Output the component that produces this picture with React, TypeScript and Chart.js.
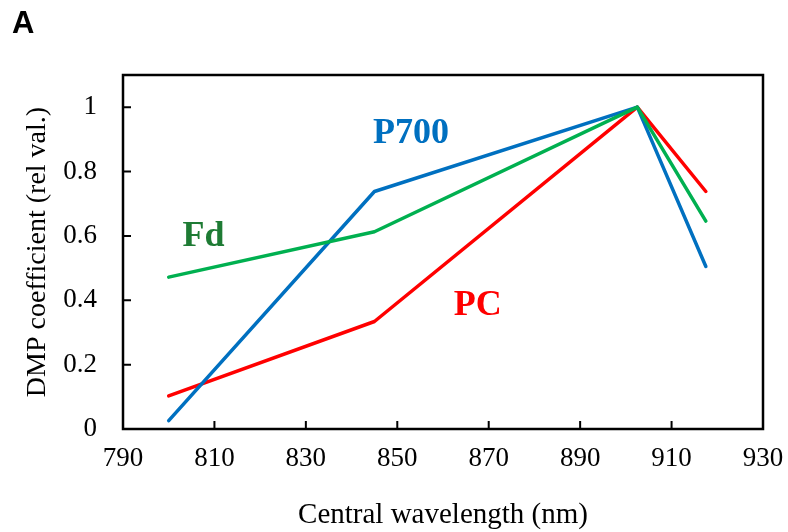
import React, { useEffect, useRef } from "react";
import { Chart, registerables } from "chart.js";

Chart.register(...registerables);

const wavelengths = [800, 845, 902.5, 917.5];
const p700 = [0.026, 0.738, 1.0, 0.505];
const fd = [0.472, 0.613, 1.0, 0.646];
const pc = [0.103, 0.334, 1.0, 0.738];
const xTicks = [790, 810, 830, 850, 870, 890, 910, 930];
const yTicks = [0, 0.2, 0.4, 0.6, 0.8, 1];
const yTickLabels = ["0", "0.2", "0.4", "0.6", "0.8", "1"];
const seriesNames = ["P700", "Fd", "PC"];

const SERIF = "'Liberation Serif', 'Times New Roman', serif";

const labelAnchors = [
  { name: seriesNames[0], x: 853, y: 0.889, color: "#0070C0" },
  { name: seriesNames[1], x: 807.6, y: 0.57, color: "#1E7B34" },
  { name: seriesNames[2], x: 867.6, y: 0.354, color: "#FF0000" },
];

const decorPlugin = {
  id: "decor",
  afterDraw(chart: any) {
    const { ctx, chartArea } = chart;
    const xs = chart.scales.x;
    const ys = chart.scales.y;
    ctx.save();
    ctx.strokeStyle = "#000";
    ctx.lineWidth = 2.5;
    ctx.strokeRect(chartArea.left, chartArea.top, chartArea.right - chartArea.left, chartArea.bottom - chartArea.top);
    ctx.lineWidth = 2;
    ctx.beginPath();
    for (const v of xTicks) {
      const px = xs.getPixelForValue(v);
      ctx.moveTo(px, chartArea.bottom);
      ctx.lineTo(px, chartArea.bottom - 8);
    }
    for (const v of yTicks) {
      const py = ys.getPixelForValue(v);
      ctx.moveTo(chartArea.left, py);
      ctx.lineTo(chartArea.left + 8, py);
    }
    ctx.stroke();
    ctx.font = `bold 36px ${SERIF}`;
    ctx.textAlign = "center";
    ctx.textBaseline = "alphabetic";
    for (const l of labelAnchors) {
      ctx.fillStyle = l.color;
      ctx.fillText(l.name, xs.getPixelForValue(l.x), ys.getPixelForValue(l.y));
    }
    ctx.fillStyle = "#000";
    ctx.font = "bold 31px 'Liberation Sans', Arial, sans-serif";
    ctx.textAlign = "left";
    ctx.fillText("A", 12, 33);
    ctx.restore();
  },
};

export default function App() {
  const ref = useRef<HTMLCanvasElement>(null);
  useEffect(() => {
    if (!ref.current) return;
    const mk = (vals: number[]) => wavelengths.map((w, i) => ({ x: w, y: vals[i] }));
    const chart = new Chart(ref.current, {
      type: "line",
      data: {
        datasets: [
          { label: seriesNames[1], data: mk(fd), borderColor: "#00B050", order: 0 },
          { label: seriesNames[0], data: mk(p700), borderColor: "#0070C0", order: 1 },
          { label: seriesNames[2], data: mk(pc), borderColor: "#FF0000", order: 2 },
        ].map((d) => ({ ...d, borderWidth: 3.5, pointRadius: 0, tension: 0, borderCapStyle: "round" as const, borderJoinStyle: "round" as const, fill: false })),
      },
      options: {
        animation: false,
        responsive: false,
        events: [],
        layout: { padding: { top: 75, right: 25, left: 0, bottom: 0 } },
        plugins: { legend: { display: false }, tooltip: { enabled: false } },
        scales: {
          x: {
            type: "linear",
            min: 790,
            max: 930,
            afterBuildTicks: (s: any) => { s.ticks = xTicks.map((v) => ({ value: v })); },
            afterFit: (s: any) => { s.height = 103; s.paddingLeft = 0; s.paddingRight = 0; },
            grid: { display: false, drawTicks: false },
            border: { display: false },
            ticks: { color: "#000", font: { family: SERIF, size: 27 }, padding: 14, maxRotation: 0, callback: (v: any) => String(v) },
            title: { display: true, text: "Central wavelength (nm)", color: "#000", font: { family: SERIF, size: 29, lineHeight: 1 }, padding: { top: 0, bottom: 2 } },
          },
          y: {
            type: "linear",
            min: 0,
            max: 1.1,
            afterBuildTicks: (s: any) => { s.ticks = yTicks.map((v) => ({ value: v })); },
            afterFit: (s: any) => { s.width = 123; s.paddingTop = 0; s.paddingBottom = 0; },
            grid: { display: false, drawTicks: false },
            border: { display: false },
            ticks: { color: "#000", font: { family: SERIF, size: 27 }, padding: 26, callback: (v: any) => { const i = yTicks.findIndex((t) => Math.abs(t - v) < 1e-6); return i >= 0 ? yTickLabels[i] : ""; } },
            title: { display: true, text: "DMP coefficient (rel val.)", color: "#000", font: { family: SERIF, size: 28, lineHeight: 1 }, padding: { top: 24, bottom: 0 } },
          },
        },
      },
      plugins: [decorPlugin],
    });
    return () => chart.destroy();
  }, []);
  return (
    <div style={{ position: "fixed", left: 0, top: 0, width: 788, height: 532, background: "#fff" }}>
      <canvas ref={ref} width={788} height={532} />
    </div>
  );
}
